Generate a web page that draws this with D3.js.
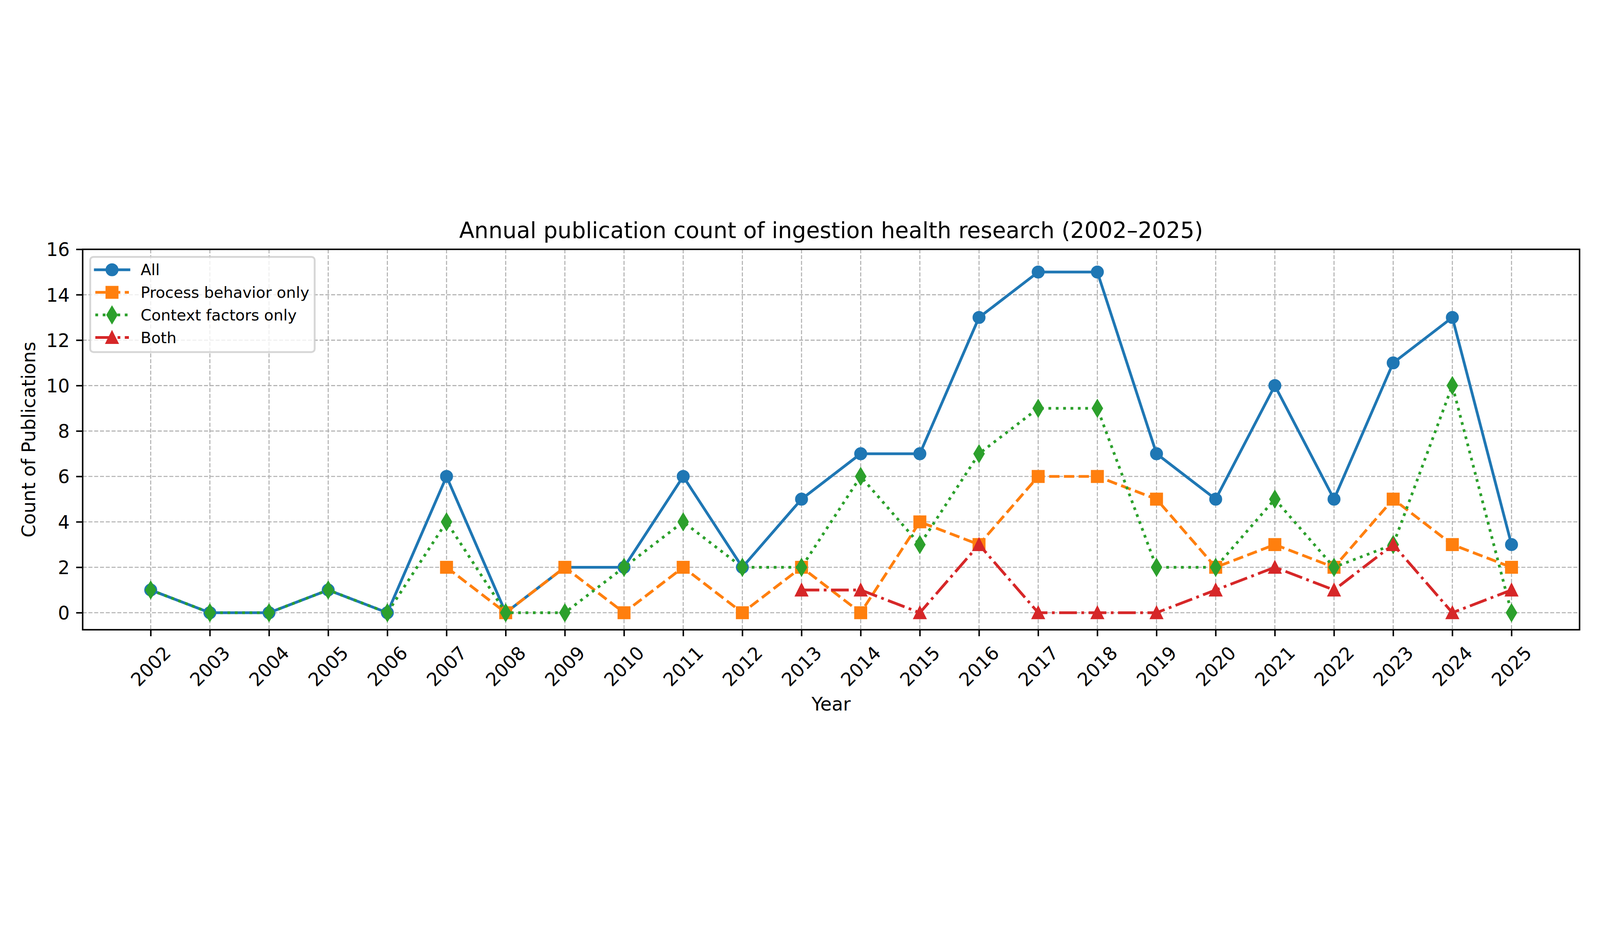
<!DOCTYPE html>
<html lang="en">

<head>
    <meta charset="UTF-8">
    <title>Annual publication count</title>
    <script src="https://d3js.org/d3.v7.min.js"></script>
    <style>
        html,
        body {
            margin: 0;
            padding: 0;
            overflow: hidden;
            background: #fff;
        }

        svg {
            display: block;
            width: 100vw;
            height: 100vh;
            font-family: "DejaVu Sans", sans-serif;
        }
    </style>
</head>

<body>
    <svg id="chart" viewBox="0 0 7200 2400" preserveAspectRatio="xMidYMid meet"></svg>
</body>
<script>
    const years = [2002, 2003, 2004, 2005, 2006, 2007, 2008, 2009, 2010, 2011, 2012, 2013,
        2014, 2015, 2016, 2017, 2018, 2019, 2020, 2021, 2022, 2023, 2024, 2025];
    const allCounts = [1, 0, 0, 1, 0, 6, 0, 2, 2, 6, 2, 5, 7, 7, 13, 15, 15, 7, 5, 10, 5, 11, 13, 3];
    const processOnly = [null, null, null, null, null, 2, 0, 2, 0, 2, 0, 2, 0, 4, 3, 6, 6, 5, 2, 3, 2, 5, 3, 2];
    const contextOnly = [1, 0, 0, 1, 0, 4, 0, 0, 2, 4, 2, 2, 6, 3, 7, 9, 9, 2, 2, 5, 2, 3, 10, 0];
    const bothCounts = [null, null, null, null, null, null, null, null, null, null, null, 1,
        1, 0, 3, 0, 0, 0, 1, 2, 1, 3, 0, 1];
    const yTicks = [0, 2, 4, 6, 8, 10, 12, 14, 16];
    const seriesNames = ["All", "Process behavior only", "Context factors only", "Both"];

    const title = "Annual publication count of ingestion health research (2002\u20132025)";

    // figure is 12x4 in at 600 dpi, so 1pt = 600/72 px
    const pt = 600 / 72;
    const lw = 1.5 * pt;

    const series = [
        { name: seriesNames[0], values: allCounts, color: "#1f77b4", marker: "o", dash: null },
        { name: seriesNames[1], values: processOnly, color: "#ff7f0e", marker: "s", dash: [3.7, 1.6] },
        { name: seriesNames[2], values: contextOnly, color: "#2ca02c", marker: "d", dash: [1, 1.65] },
        { name: seriesNames[3], values: bothCounts, color: "#d62728", marker: "^", dash: [6.4, 1.6, 1, 1.6] }
    ];

    const svg = d3.select("#chart");
    const plotL = 372, plotR = 7108, plotT = 212, plotB = 1923;

    const x = d3.scaleLinear().domain([2000.85, 2026.15]).range([plotL, plotR]);
    const y = d3.scaleLinear().domain([-0.75, 16]).range([plotB, plotT]);

    // grid
    const grid = svg.append("g")
        .attr("stroke", "#b0b0b0")
        .attr("stroke-width", 0.55 * pt)
        .attr("stroke-dasharray", "18,8");
    years.forEach(yr => {
        grid.append("line")
            .attr("x1", x(yr)).attr("x2", x(yr))
            .attr("y1", plotT).attr("y2", plotB);
    });
    yTicks.forEach(t => {
        grid.append("line")
            .attr("x1", plotL).attr("x2", plotR)
            .attr("y1", y(t)).attr("y2", y(t));
    });

    function markerPath(type) {
        const s = 6 * pt;
        if (type === "o") return d3.symbol(d3.symbolCircle, Math.PI * (s / 2) * (s / 2))();
        if (type === "s") return `M${-s / 2},${-s / 2}H${s / 2}V${s / 2}H${-s / 2}Z`;
        if (type === "d") {
            const h = s * Math.SQRT2 / 2, w = 0.6 * h;
            return `M0,${-h}L${w},0L0,${h}L${-w},0Z`;
        }
        return `M0,${-s / 2}L${s / 2},${s / 2}L${-s / 2},${s / 2}Z`;
    }

    function styleLine(sel, s) {
        sel.attr("fill", "none")
            .attr("stroke", s.color)
            .attr("stroke-width", lw)
            .attr("stroke-linejoin", "round")
            .attr("stroke-linecap", s.dash ? "butt" : "square");
        if (s.dash) sel.attr("stroke-dasharray", s.dash.map(d => d * 1.5 * pt).join(","));
        return sel;
    }

    function styleMarker(sel, s) {
        return sel.attr("d", markerPath(s.marker))
            .attr("fill", s.color)
            .attr("stroke", s.color)
            .attr("stroke-width", pt)
            .attr("stroke-linejoin", "miter");
    }

    const line = d3.line()
        .defined(d => d[1] !== null)
        .x(d => x(d[0]))
        .y(d => y(d[1]));

    // each series: line then its markers
    series.forEach(s => {
        const pts = years.map((yr, i) => [yr, s.values[i]]);
        const g = svg.append("g");
        styleLine(g.append("path").attr("d", line(pts)), s);
        pts.filter(d => d[1] !== null).forEach(d => {
            styleMarker(g.append("path"), s)
                .attr("transform", `translate(${x(d[0])},${y(d[1])})`);
        });
    });

    // axes
    const xAxis = svg.append("g")
        .attr("transform", `translate(0,${plotB})`)
        .call(d3.axisBottom(x).tickValues(years).tickSize(3.5 * pt).tickFormat(d3.format("d")));
    xAxis.select(".domain").remove();
    xAxis.selectAll(".tick line").attr("stroke", "#000").attr("stroke-width", 0.8 * pt);
    xAxis.selectAll(".tick text")
        .attr("font-size", 10 * pt)
        .attr("font-family", "DejaVu Sans")
        .attr("fill", "#000")
        .attr("y", null).attr("dy", null)
        .attr("text-anchor", "middle")
        .attr("dominant-baseline", "central")
        .attr("transform", "translate(0,164) rotate(-45)");

    const yAxis = svg.append("g")
        .attr("transform", `translate(${plotL},0)`)
        .call(d3.axisLeft(y).tickValues(yTicks).tickSize(3.5 * pt).tickPadding(3.5 * pt));
    yAxis.select(".domain").remove();
    yAxis.selectAll(".tick line").attr("stroke", "#000").attr("stroke-width", 0.8 * pt);
    yAxis.selectAll(".tick text")
        .attr("font-size", 10 * pt)
        .attr("font-family", "DejaVu Sans")
        .attr("fill", "#000")
        .attr("dy", "0.36em");

    // frame
    svg.append("rect")
        .attr("x", plotL).attr("y", plotT)
        .attr("width", plotR - plotL).attr("height", plotB - plotT)
        .attr("fill", "none")
        .attr("stroke", "#000")
        .attr("stroke-width", 0.8 * pt)
        .attr("stroke-linecap", "square");

    // labels
    svg.append("text")
        .attr("x", (plotL + plotR) / 2).attr("y", 162)
        .attr("text-anchor", "middle")
        .attr("font-size", 12 * pt)
        .text(title);

    svg.append("text")
        .attr("x", (plotL + plotR) / 2).attr("y", 2287)
        .attr("text-anchor", "middle")
        .attr("font-size", 10 * pt)
        .text("Year");

    svg.append("text")
        .attr("transform", `translate(158,${(plotT + plotB) / 2}) rotate(-90)`)
        .attr("text-anchor", "middle")
        .attr("font-size", 10 * pt)
        .text("Count of Publications");

    // legend
    const legend = svg.append("g");
    legend.append("rect")
        .attr("x", 406).attr("y", 246)
        .attr("width", 1010).attr("height", 428)
        .attr("rx", 14)
        .attr("fill", "#fff").attr("fill-opacity", 0.8)
        .attr("stroke", "#cccccc").attr("stroke-opacity", 0.8)
        .attr("stroke-width", pt);

    series.forEach((s, i) => {
        const ry = 304 + i * 101.5;
        styleLine(legend.append("line")
            .attr("x1", 429).attr("x2", 580)
            .attr("y1", ry).attr("y2", ry), s);
        styleMarker(legend.append("path"), s)
            .attr("transform", `translate(504,${ry})`);
        legend.append("text")
            .attr("x", 633).attr("y", ry)
            .attr("dy", "0.36em")
            .attr("font-size", 8.33 * pt)
            .text(s.name);
    });
</script>

</html>
